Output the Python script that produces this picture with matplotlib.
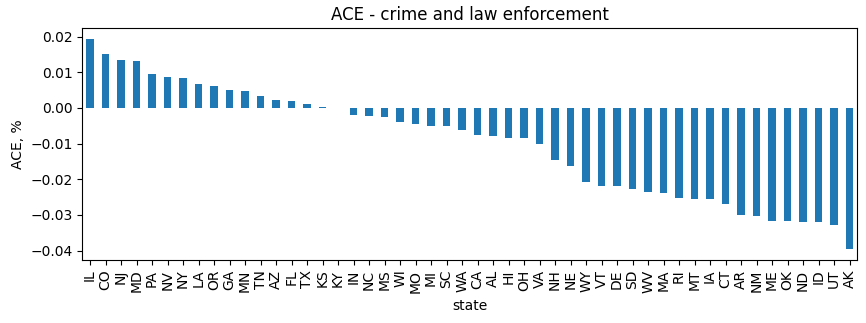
import pandas as pd
import matplotlib
matplotlib.use('Agg')
import matplotlib.pyplot as plt

states = ['IL', 'CO', 'NJ', 'MD', 'PA', 'NV', 'NY', 'LA', 'OR', 'GA',
          'MN', 'TN', 'AZ', 'FL', 'TX', 'KS', 'KY', 'IN', 'NC', 'MS',
          'WI', 'MO', 'MI', 'SC', 'WA', 'CA', 'AL', 'HI', 'OH', 'VA',
          'NH', 'NE', 'WY', 'VT', 'DE', 'SD', 'WV', 'MA', 'RI', 'MT',
          'IA', 'CT', 'AR', 'NM', 'ME', 'OK', 'ND', 'ID', 'UT', 'AK']
ace = [0.0194, 0.0152, 0.0135, 0.0132, 0.0096, 0.0087, 0.0085, 0.0068, 0.0062, 0.0051,
       0.0048, 0.0034, 0.0023, 0.0020, 0.0011, 0.0003, 0.0000, -0.0020, -0.0023, -0.0025,
       -0.0039, -0.0045, -0.0051, -0.0051, -0.0062, -0.0076, -0.0079, -0.0085, -0.0085, -0.0101,
       -0.0146, -0.0163, -0.0208, -0.0220, -0.0220, -0.0228, -0.0237, -0.0239, -0.0254, -0.0256,
       -0.0256, -0.0270, -0.0301, -0.0304, -0.0318, -0.0318, -0.0321, -0.0321, -0.0327, -0.0397]

s = pd.Series(ace, index=pd.Index(states, name='state'))

fig, ax = plt.subplots(figsize=(8.66, 3.23), dpi=100)
s.plot.bar(ax=ax, color='#1f77b4')
ax.set_title('ACE - crime and law enforcement')
ax.set_ylabel('ACE, %')
ax.set_xlabel('state')

fig.subplots_adjust(left=0.095, right=0.99, top=0.913, bottom=0.195)
fig.savefig('out.png', dpi=100)
